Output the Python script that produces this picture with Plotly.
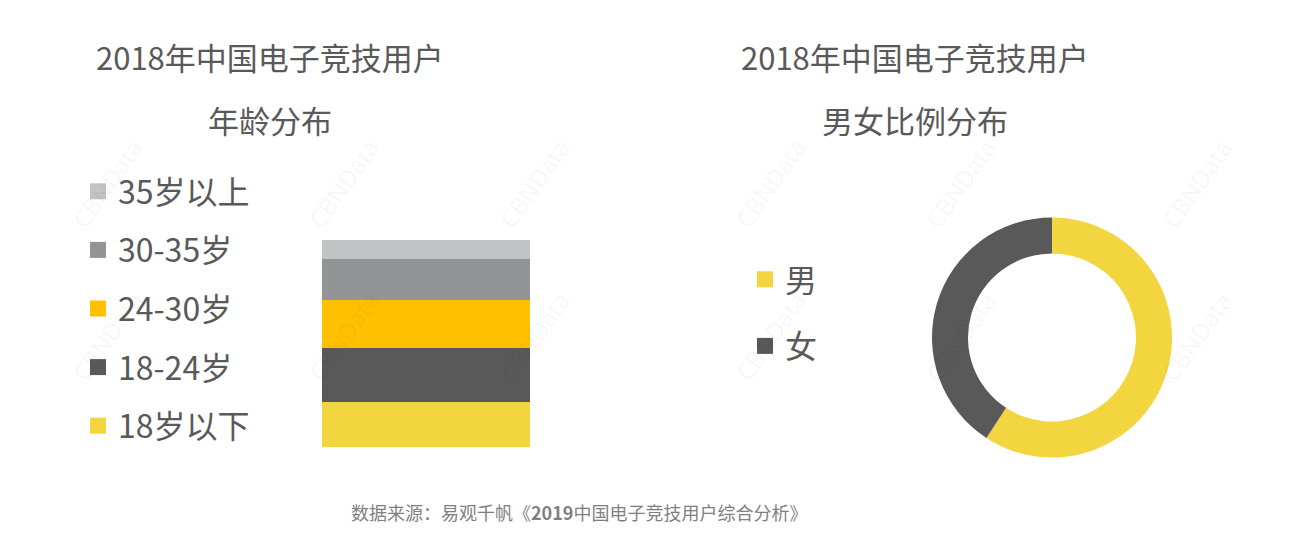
import plotly.graph_objects as go

W, H = 1306, 548
OFF = 8  # page body margin

# ---- data ----
age_groups = ["18岁以下", "18-24岁", "24-30岁", "30-35岁", "35岁以上"]
age_share = [22.0, 26.0, 23.3, 19.3, 9.4]
age_colors = ["#F3D53F", "#595959", "#FFC000", "#939496", "#C1C3C4"]

genders = ["男", "女"]
gender_share = [59.2, 40.8]
gender_colors = ["#F3D53F", "#595959"]

title_left = ["2018年中国电子竞技用户", "年龄分布"]
title_right = ["2018年中国电子竞技用户", "男女比例分布"]
source_text = "数据来源：易观千帆《<b>2019</b>中国电子竞技用户综合分析》"

FONT = "Noto Sans CJK SC"
TXT = "#595959"


def px_x(p):
    return (p - OFF) / W


def px_y(p):
    return 1 - (p - OFF) / H


fig = go.Figure()

# stacked bar (bottom to top)
for name, val, col in zip(age_groups, age_share, age_colors):
    fig.add_trace(go.Bar(
        x=["age"], y=[val], name=name, marker=dict(color=col, line=dict(width=0)),
        showlegend=False, hoverinfo="name+y", xaxis="x", yaxis="y",
    ))

# legend entries for the bar (top item = oldest group)
for i, (name, col) in enumerate(zip(age_groups[::-1], age_colors[::-1])):
    fig.add_trace(go.Scatter(
        x=[None], y=[None], mode="markers", name=name,
        marker=dict(symbol="square", size=18, color=col),
        legend="legend", legendgroup=f"a{i}", xaxis="x", yaxis="y",
    ))

# donut
fig.add_trace(go.Pie(
    labels=genders, values=gender_share, hole=0.70, sort=False,
    direction="clockwise", rotation=0,
    marker=dict(colors=gender_colors, line=dict(width=0)),
    textinfo="none", showlegend=False,
    domain=dict(x=[px_x(1052 - 125), px_x(1052 + 125)],
                y=[px_y(337.5 + 120), px_y(337.5 - 120)]),
))

# legend entries for the donut
for i, (name, col) in enumerate(zip(genders, gender_colors)):
    fig.add_trace(go.Scatter(
        x=[None], y=[None], mode="markers", name=name,
        marker=dict(symbol="square", size=17, color=col),
        legend="legend2", legendgroup=f"g{i}", xaxis="x", yaxis="y",
    ))

annotations = []
for cx, lines in [(270, title_left), (915, title_right)]:
    for ln, cy in zip(lines, [57, 119]):
        annotations.append(dict(
            x=px_x(cx), y=px_y(cy), xref="paper", yref="paper",
            text=ln, showarrow=False, xanchor="center", yanchor="middle",
            font=dict(family=FONT, size=31, color=TXT),
        ))

annotations.append(dict(
    x=px_x(579), y=px_y(512), xref="paper", yref="paper",
    text=source_text, showarrow=False, xanchor="center", yanchor="middle",
    font=dict(family=FONT, size=18, color="#7F7F7F"),
))

# faint watermarks
for wy in [130, 390]:
    for k in range(6):
        annotations.append(dict(
            x=px_x(62 + 236 * k), y=px_y(wy), xref="paper", yref="paper",
            text="CBNData", showarrow=False, textangle=-55,
            font=dict(family="Open Sans", size=24, color="rgba(0,0,0,0.05)"),
        ))

fig.update_layout(
    width=W, height=H,
    margin=dict(l=0, r=0, t=0, b=0),
    paper_bgcolor="white", plot_bgcolor="white",
    barmode="stack", bargap=0,
    showlegend=True,
    xaxis=dict(domain=[px_x(322), px_x(530)], visible=False, fixedrange=True),
    yaxis=dict(domain=[px_y(447.3), px_y(240)], range=[0, 100], visible=False, fixedrange=True),
    legend=dict(
        x=px_x(78), y=px_y(164), xanchor="left", yanchor="top",
        traceorder="grouped", tracegroupgap=14,
        font=dict(family=FONT, size=32, color=TXT),
        bgcolor="rgba(0,0,0,0)", itemclick=False, itemdoubleclick=False,
    ),
    legend2=dict(
        x=px_x(745), y=px_y(252), xanchor="left", yanchor="top",
        traceorder="grouped", tracegroupgap=22,
        font=dict(family=FONT, size=32, color=TXT),
        bgcolor="rgba(0,0,0,0)", itemclick=False, itemdoubleclick=False,
    ),
    annotations=annotations,
)

fig.write_html("out.html")
